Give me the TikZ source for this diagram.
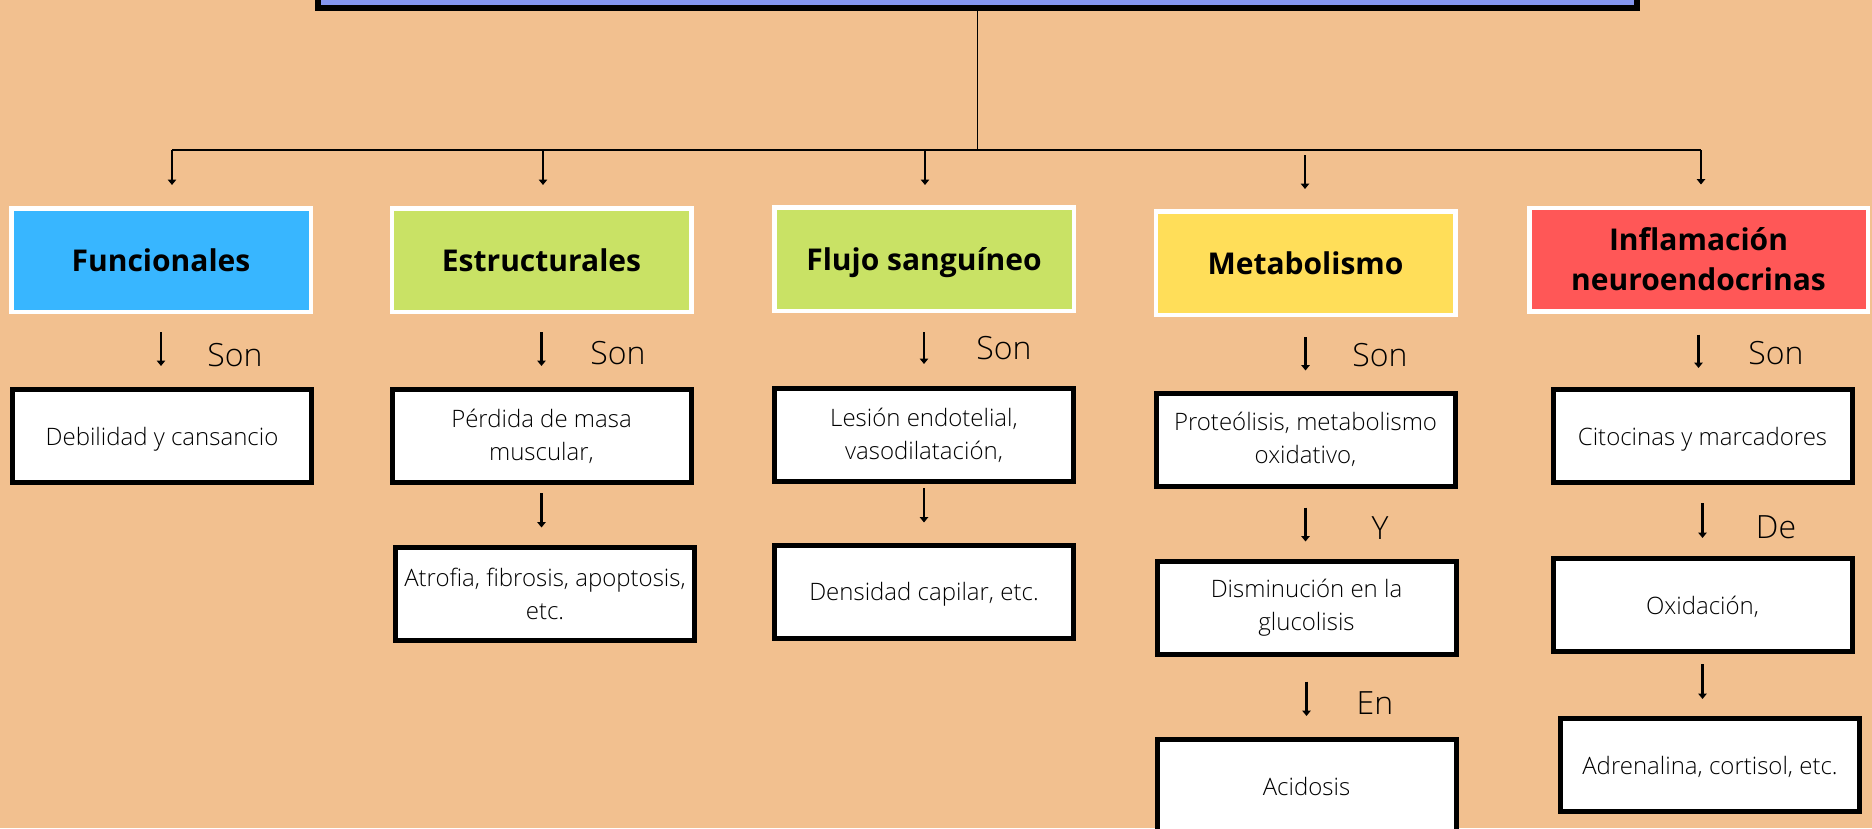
\documentclass[tikz,border=0pt]{standalone}
\usepackage{fontspec}
\setmainfont{Open Sans}
\newfontfamily\lightfont{Open Sans Light}
\usetikzlibrary{arrows.meta,calc}
\definecolor{bg}{RGB}{242,192,143}
\definecolor{topc}{RGB}{132,150,240}
\definecolor{cblue}{RGB}{56,182,255}
\definecolor{cgreen}{RGB}{201,226,101}
\definecolor{cyellow}{RGB}{255,222,89}
\definecolor{cred}{RGB}{255,87,87}
\begin{document}
\begin{tikzpicture}[x=1pt,y=-1pt,
  head/.style={draw=white, line width=4.5pt, minimum width=299.5pt, minimum height=103.5pt,
    font=\bfseries\fontsize{30}{40}\selectfont, align=center, inner sep=0pt},
  box/.style={draw=black, fill=white, line width=5pt, minimum width=299pt, minimum height=93pt,
    font=\lightfont\fontsize{24}{33}\selectfont, align=center, inner sep=0pt},
  nodepth/.style={text depth=0pt},
  lbl/.style={font=\lightfont\fontsize{32}{32}\selectfont, inner sep=0pt},
  arr/.style={line width=2.4pt, -{Triangle[length=5.5pt,width=8.5pt]}},
  conn/.style={line width=2pt}]
\useasboundingbox (0,0) rectangle (1872,828);
\clip (0,0) rectangle (1872,828);
\fill[bg] (0,0) rectangle (1872,828);

% top box (cut off by the upper edge)
\node[draw=black, fill=topc, line width=6pt, minimum width=1319pt, minimum height=80pt, inner sep=0pt] (top) at (977.5,-32) {};

% headers
\node[head, fill=cblue] (h1) at (161,260) {Funcionales};
\node[head, fill=cgreen] (h2) at (541.5,260) {Estructurales};
\node[head, fill=cgreen, nodepth] (h3) at (924,259) {Flujo sanguíneo};
\node[head, fill=cyellow] (h4) at (1305.5,263) {Metabolismo};
\node[head, fill=cred, minimum width=338.5pt] (h5) at (1698.5,259.5) {Inflamación\\neuroendocrinas};

% boxes
\node[box, nodepth] (b1) at (162,436) {Debilidad y cansancio};
\node[box] (b2) at (541.5,436) {Pérdida de masa\\muscular,};
\node[box] (b3) at (545,593.5) {Atrofia, fibrosis, apoptosis,\\etc.};
\node[box] (c1) at (924,435) {Lesión endotelial,\\vasodilatación,};
\node[box, nodepth] (c2) at (924,591.5) {Densidad capilar, etc.};
\node[box] (d1) at (1305.5,439.5) {Proteólisis, metabolismo\\oxidativo,};
\node[box] (d2) at (1306.5,607.5) {Disminución en la\\glucolisis};
\node[box] (d3) at (1306.5,786) {Acidosis};
\node[box, nodepth] (e1) at (1702.5,436) {Citocinas y marcadores};
\node[box, nodepth] (e2) at (1702.5,605) {Oxidación,};
\node[box, nodepth] (e3) at (1710,765) {Adrenalina, cortisol, etc.};

% labels
\node[lbl] (l1) at (235,355) {Son};
\node[lbl] (l2) at (618,353) {Son};
\node[lbl] (l3) at (1004,348) {Son};
\node[lbl] (l4) at (1380,355) {Son};
\node[lbl] (l5) at (1380,528) {Y};
\node[lbl] (l6) at (1375,703) {En};
\node[lbl] (l7) at (1776,353) {Son};
\node[lbl] (l8) at (1776,527) {De};

% tree connectors
\coordinate (jt) at (977.5,150);
\coordinate (ja) at (172,150);
\coordinate (jb) at (543,150);
\coordinate (jc) at (925,150);
\coordinate (jd) at (1305,150);
\coordinate (je) at (1701,150);
\draw[line width=1.6pt] (top.south) -- (jt);
\draw[conn] (ja) -- (je);
\draw[arr, shorten >=21pt] (ja) -- (ja |- h1.north);
\draw[arr, shorten >=21pt] (jb) -- (jb |- h2.north);
\draw[arr, shorten >=20pt] (jc) -- (jc |- h3.north);
\draw[arr, shorten <=5pt, shorten >=20pt] (jd) -- (jd |- h4.north);
\draw[arr, shorten >=21pt] (je) -- (je |- h5.north);

% vertical arrows
\draw[arr, shorten <=18pt, shorten >=21pt] (h1.south) -- (h1.south |- b1.north);
\draw[arr, shorten <=18pt, shorten >=21pt] (h2.south) -- (h2.south |- b2.north);
\draw[arr, shorten <=8pt, shorten >=17pt] (b2.south) -- (b2.south |- b3.north);
\draw[arr, shorten <=19pt, shorten >=22pt] (h3.south) -- (h3.south |- c1.north);
\draw[arr, shorten <=4pt, shorten >=20pt] (c1.south) -- (c1.south |- c2.north);
\draw[arr, shorten <=20pt, shorten >=20pt] (h4.south) -- (h4.south |- d1.north);
\draw[arr, shorten <=19pt, shorten >=17pt] (d1.south) -- (d1.south |- d2.north);
\draw[arr, shorten <=25pt, shorten >=21pt] (d2.south) -- (d2.south |- d3.north);
\draw[arr, shorten <=21pt, shorten >=19pt] (h5.south) -- (h5.south |- e1.north);
\draw[arr, shorten <=18pt, shorten >=18pt] (e1.south) -- (e1.south |- e2.north);
\draw[arr, shorten <=10pt, shorten >=17pt] (e2.south) -- (e2.south |- e3.north);
\end{tikzpicture}
\end{document}
